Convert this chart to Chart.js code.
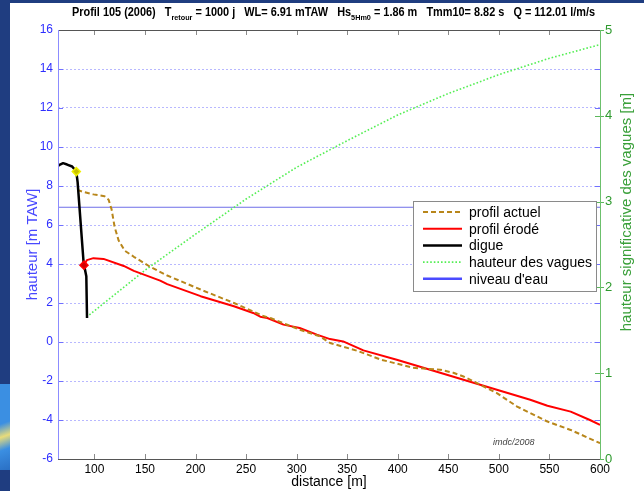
<!DOCTYPE html>
<html>
<head>
<meta charset="utf-8">
<script src="https://cdn.jsdelivr.net/npm/chart.js@4.4.0/dist/chart.umd.min.js"></script>
<style>
  html, body { margin: 0; padding: 0; background: #fff; width: 644px; height: 491px; overflow: hidden; }
  #edge { position: absolute; left: 0; top: 0; width: 10px; height: 491px; background: #1f3d80; }
  #edgeTop { position: absolute; left: 0; top: 0; width: 644px; height: 3px; background: #1f3d80; }
  #edgePatch { position: absolute; left: 0; top: 384px; width: 10px; height: 86px;
    background: linear-gradient(160deg, #3b8fe2 0%, #3b8fe2 45%, #e8dc7a 60%, #3b8fe2 75%, #2a6fc4 100%); }
  #chart { position: absolute; left: 0; top: 0; }
</style>
</head>
<body>
<div id="edge"></div>
<div id="edgeTop"></div>
<div id="edgePatch"></div>
<canvas id="chart" width="644" height="491"></canvas>
<script>
// ---- data ----
const xTicks = [100, 150, 200, 250, 300, 350, 400, 450, 500, 550, 600];
const yTicks = [-6, -4, -2, 0, 2, 4, 6, 8, 10, 12, 14, 16];
const y2Ticks = [0, 1, 2, 3, 4, 5];

// profil actuel (m TAW)
const actuelX = [83, 89, 99, 110, 114, 117, 120, 124, 130, 139, 155, 172, 205, 238, 257, 266, 274, 290, 303, 323, 333, 360, 383, 415, 430, 442, 455, 465, 480, 498, 518, 548, 571, 600];
const actuelY = [7.8, 7.7, 7.57, 7.48, 7.3, 6.8, 5.9, 5.2, 4.68, 4.37, 3.86, 3.41, 2.69, 2.0, 1.57, 1.35, 1.23, 0.9, 0.63, 0.29, -0.05, -0.45, -0.9, -1.32, -1.38, -1.42, -1.58, -1.77, -2.15, -2.62, -3.31, -4.08, -4.51, -5.19];

// profil érodé (m TAW)
const erodeX = [89.7, 92.6, 99, 109, 129, 139, 165, 172, 205, 238, 257, 264, 271, 287, 303, 320, 333, 346, 366, 399, 432, 465, 498, 531, 548, 571, 590, 600];
const erodeY = [3.94, 4.2, 4.3, 4.26, 3.9, 3.65, 3.15, 2.97, 2.35, 1.83, 1.49, 1.3, 1.23, 0.89, 0.72, 0.38, 0.15, 0.03, -0.43, -0.91, -1.42, -1.94, -2.45, -2.96, -3.27, -3.57, -4.0, -4.25];

// digue (m TAW)
const digueX = [64, 66, 69, 73, 78, 82.1, 83.4, 89.3, 92, 92.7];
const digueY = [9.03, 9.1, 9.17, 9.1, 9.0, 8.74, 8.2, 4.08, 3.37, 1.23];

// hauteur significative des vagues (m, right axis)
const vaguesX = [95, 150, 200, 250, 300, 350, 400, 450, 500, 550, 600];
const vaguesH = [1.68, 2.2, 2.62, 3.03, 3.4, 3.71, 4.01, 4.26, 4.48, 4.67, 4.83];

// niveau d'eau
const niveauX = [64, 600];
const niveauEau = 6.91;

// markers on the dike
const crestPoint = [82.1, 8.74];
const toePoint = [89.7, 3.94];

const FONT = "'Liberation Sans', Arial, sans-serif";

const pts = (xs, ys) => xs.map((x, i) => ({ x: x, y: ys[i] }));

const legendItems = ['profil actuel', 'profil érodé', 'digue', 'hauteur des vagues', "niveau d'eau"];

// frame, inside tick marks, legend, titles
const decor = {
    id: 'decor',
    afterDatasetsDraw(chart) {
        const { ctx, chartArea: a, scales } = chart;
        const seg = (x1, y1, x2, y2) => { ctx.beginPath(); ctx.moveTo(x1, y1); ctx.lineTo(x2, y2); ctx.stroke(); };
        ctx.save();
        ctx.lineWidth = 1;

        // x ticks, top and bottom, pointing inside
        ctx.strokeStyle = '#8a8a8a';
        xTicks.forEach(v => {
            const px = Math.round(scales.x.getPixelForValue(v)) + 0.5;
            seg(px, a.bottom, px, a.bottom - 5);
            seg(px, a.top, px, a.top + 5);
        });
        // left axis ticks, mirrored on the right side
        ctx.strokeStyle = '#7070ff';
        yTicks.forEach(v => {
            const py = Math.round(scales.y.getPixelForValue(v)) + 0.5;
            seg(a.left, py, a.left + 5, py);
            seg(a.right, py, a.right - 5, py);
        });
        // right axis ticks
        ctx.strokeStyle = '#5cb85c';
        y2Ticks.forEach(v => {
            const py = Math.round(scales.y2.getPixelForValue(v)) + 0.5;
            seg(a.right - 5, py, a.right + 4, py);
        });

        // frame
        ctx.strokeStyle = '#555';
        seg(a.left, a.top + 0.5, a.right, a.top + 0.5);
        seg(a.left, a.bottom + 0.5, a.right, a.bottom + 0.5);
        ctx.strokeStyle = '#8c8cff';
        seg(a.left + 0.5, a.top, a.left + 0.5, a.bottom);
        ctx.strokeStyle = '#6cc06c';
        seg(a.right + 0.5, a.top, a.right + 0.5, a.bottom + 1);

        // stamp
        ctx.fillStyle = '#444';
        ctx.font = 'italic 9px ' + FONT;
        ctx.textAlign = 'left';
        ctx.textBaseline = 'alphabetic';
        ctx.fillText('imdc/2008', 493, 445);

        // legend box
        const bx = 413, by = 201, bw = 183, bh = 90;
        ctx.fillStyle = '#fff';
        ctx.fillRect(bx, by, bw, bh);
        ctx.strokeStyle = '#8a8a8a';
        ctx.strokeRect(bx + 0.5, by + 0.5, bw, bh);
        ctx.font = '14px ' + FONT;
        ctx.textBaseline = 'middle';
        legendItems.forEach((label, i) => {
            const ds = chart.data.datasets.find(d => d.label === label);
            const ly = by + 11 + i * 16.7;
            ctx.save();
            ctx.strokeStyle = ds.legendColor || ds.borderColor;
            ctx.lineWidth = ds.legendWidth || ds.borderWidth;
            ctx.setLineDash(ds.borderDash || []);
            seg(bx + 10, ly, bx + 49, ly);
            ctx.restore();
            ctx.fillStyle = '#000';
            ctx.fillText(label, bx + 56, ly + 1);
        });
        ctx.restore();
    },
    afterDraw(chart) {
        const { ctx } = chart;
        ctx.save();
        // title with subscripts, fitted to the reference width
        const parts = [
            ['Profil 105 (2006)   T', false], ['retour', true], [' = 1000 j   WL= 6.91 mTAW   Hs', false],
            ['5Hm0', true], [' = 1.86 m   Tmm10= 8.82 s   Q = 112.01 l/m/s', false]
        ];
        const mainFont = 'bold 12px ' + FONT, subFont = 'bold 8px ' + FONT;
        let total = 0;
        parts.forEach(p => { ctx.font = p[1] ? subFont : mainFont; total += ctx.measureText(p[0]).width; });
        const sx = 523 / total;
        ctx.translate(72, 0);
        ctx.scale(sx, 1);
        ctx.fillStyle = '#000';
        ctx.textAlign = 'left';
        ctx.textBaseline = 'alphabetic';
        let x = 0;
        parts.forEach(p => {
            ctx.font = p[1] ? subFont : mainFont;
            ctx.fillText(p[0], x, p[1] ? 20 : 16);
            x += ctx.measureText(p[0]).width;
        });
        ctx.restore();

        // right axis title, reading bottom to top
        ctx.save();
        ctx.translate(627, 212);
        ctx.rotate(-Math.PI / 2);
        ctx.fillStyle = '#3aa03a';
        ctx.font = '15px ' + FONT;
        ctx.textAlign = 'center';
        ctx.textBaseline = 'middle';
        ctx.fillText('hauteur significative des vagues [m]', 0, 0);
        ctx.restore();
    }
};

new Chart(document.getElementById('chart'), {
    type: 'line',
    data: {
        datasets: [
            { label: 'crest', data: [{ x: crestPoint[0], y: crestPoint[1] }], showLine: false,
              pointStyle: 'rectRot', pointRadius: 4, borderColor: '#f0f000', backgroundColor: '#c8c000', borderWidth: 1.5, order: 0 },
            { label: 'toe', data: [{ x: toePoint[0], y: toePoint[1] }], showLine: false,
              pointStyle: 'rectRot', pointRadius: 4, borderColor: '#ff0000', backgroundColor: '#d00000', borderWidth: 1.5, order: 0 },
            { label: 'digue', data: pts(digueX, digueY), borderColor: '#000', borderWidth: 2.5, order: 1 },
            { label: 'profil actuel', data: pts(actuelX, actuelY), borderColor: '#b8861a', borderWidth: 2, borderDash: [5, 3], order: 2 },
            { label: 'profil érodé', data: pts(erodeX, erodeY), borderColor: '#ff0000', borderWidth: 2, order: 3 },
            { label: 'hauteur des vagues', data: pts(vaguesX, vaguesH), yAxisID: 'y2', borderColor: '#55ee55', borderWidth: 1.6, borderDash: [1.6, 2], order: 4 },
            { label: "niveau d'eau", data: niveauX.map(x => ({ x: x, y: niveauEau })), borderColor: '#6f6fe8', borderWidth: 1,
              legendColor: '#4a4aff', legendWidth: 2.5, order: 5 }
        ]
    },
    options: {
        responsive: false,
        devicePixelRatio: 1,
        animation: false,
        layout: { padding: { top: 30, left: 0, right: 0, bottom: 0 } },
        elements: { point: { radius: 0, hoverRadius: 0 }, line: { tension: 0, fill: false, borderCapStyle: 'butt', borderJoinStyle: 'round' } },
        plugins: { legend: { display: false }, tooltip: { enabled: false }, title: { display: false } },
        scales: {
            x: {
                type: 'linear', min: 64, max: 600,
                afterBuildTicks: s => { s.ticks = xTicks.map(v => ({ value: v })); },
                afterFit: s => { s.height = 32; },
                ticks: { color: '#000', font: { family: FONT, size: 12 }, padding: 3, maxRotation: 0, autoSkip: false },
                grid: { display: false, drawTicks: false },
                border: { display: false },
                title: { display: true, text: 'distance [m]', color: '#000', font: { family: FONT, size: 14 }, padding: 0 }
            },
            y: {
                type: 'linear', position: 'left', min: -6, max: 16,
                afterBuildTicks: s => { s.ticks = yTicks.map(v => ({ value: v })); },
                afterFit: s => { s.width = 58; },
                ticks: { color: '#2e2eff', font: { family: FONT, size: 12 }, padding: 5, autoSkip: false },
                grid: {
                    drawTicks: false, lineWidth: 1,
                    color: c => (c.tick && (c.tick.value === 16 || c.tick.value === -6)) ? 'rgba(0,0,0,0)' : '#b8b8ff'
                },
                border: { display: false, dash: [2, 2] },
                title: { display: true, text: 'hauteur [m TAW]', color: '#4848ff', font: { family: FONT, size: 15 }, padding: { top: 24, bottom: 0 } }
            },
            y2: {
                type: 'linear', position: 'right', min: 0, max: 5,
                afterBuildTicks: s => { s.ticks = y2Ticks.map(v => ({ value: v })); },
                afterFit: s => { s.width = 44; },
                ticks: { color: '#2f9a2f', font: { family: FONT, size: 13 }, padding: 5, autoSkip: false },
                grid: { display: false, drawTicks: false },
                border: { display: false },
                title: { display: false }
            }
        }
    },
    plugins: [decor]
});
</script>
</body>
</html>
